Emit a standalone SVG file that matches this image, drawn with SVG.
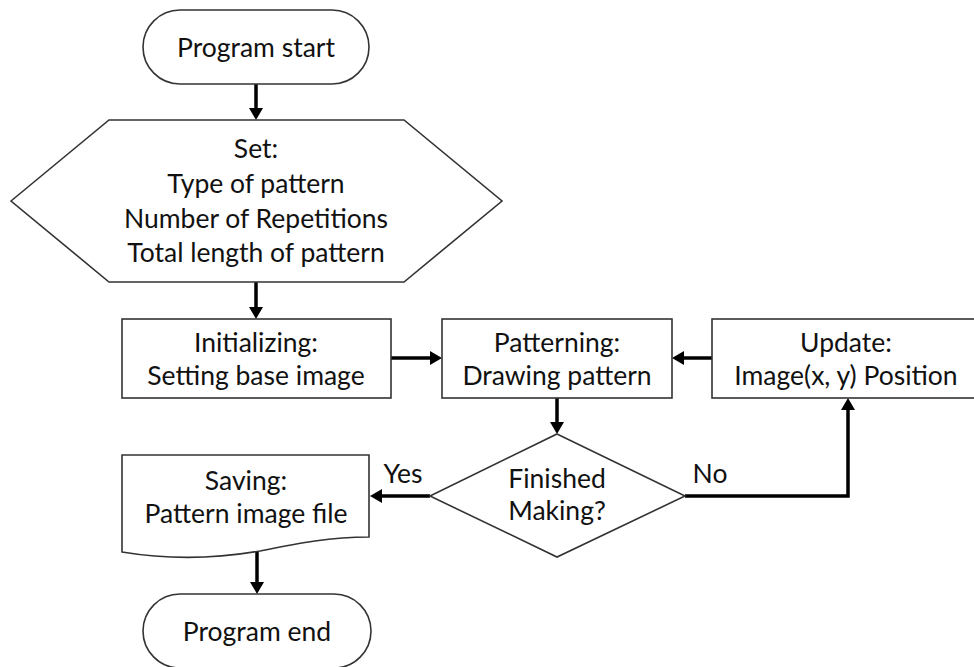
<svg xmlns="http://www.w3.org/2000/svg" width="974" height="667" viewBox="0 0 974 667">
<style>
.shape{fill:#ffffff;stroke:#333333;stroke-width:1.6}
.conn{fill:none;stroke:#000000;stroke-width:3.5}
text{font-family:Lato,"Open Sans","Liberation Sans",sans-serif;font-size:26.5px;fill:#111111;text-anchor:middle}
</style>
<defs>
<marker id="arr" markerUnits="userSpaceOnUse" markerWidth="13" markerHeight="14" refX="3" refY="7" orient="auto">
<path d="M0,0 L12,7 L0,14 z" fill="#000000"/>
</marker>
</defs>
<rect width="974" height="667" fill="#ffffff"/>
<g id="connectors">
<line class="conn" x1="256" y1="84" x2="256" y2="111" marker-end="url(#arr)"/>
<line class="conn" x1="256" y1="282" x2="256" y2="310" marker-end="url(#arr)"/>
<line class="conn" x1="391" y1="358" x2="433" y2="358" marker-end="url(#arr)"/>
<line class="conn" x1="712" y1="358" x2="681" y2="358" marker-end="url(#arr)"/>
<line class="conn" x1="557" y1="398" x2="557" y2="425" marker-end="url(#arr)"/>
<line class="conn" x1="430" y1="496" x2="379" y2="496" marker-end="url(#arr)"/>
<path class="conn" d="M685,496 H848 V407" marker-end="url(#arr)"/>
<line class="conn" x1="257" y1="549" x2="257" y2="585" marker-end="url(#arr)"/>
<text x="403" y="483">Yes</text>
<text x="710" y="483">No</text>
</g>
<g id="start">
<rect class="shape" x="143" y="10" width="226" height="74" rx="37" ry="37"/>
<text x="256" y="57">Program start</text>
</g>
<g id="set">
<polygon class="shape" points="11,201 109,120 404,120 502,201 404,282 109,282"/>
<text x="256" y="158">Set:</text>
<text x="256" y="193">Type of pattern</text>
<text x="256" y="228">Number of Repetitions</text>
<text x="256" y="262">Total length of pattern</text>
</g>
<g id="init">
<rect class="shape" x="122" y="319" width="269" height="79"/>
<text x="256" y="352">Initializing:</text>
<text x="256" y="385">Setting base image</text>
</g>
<g id="patterning">
<rect class="shape" x="442" y="319" width="230" height="79"/>
<text x="557" y="352">Patterning:</text>
<text x="557" y="385">Drawing pattern</text>
</g>
<g id="update">
<rect class="shape" x="712" y="319" width="270" height="79"/>
<text x="846" y="352">Update:</text>
<text x="846" y="385">Image(x, y) Position</text>
</g>
<g id="decision">
<polygon class="shape" points="557,434 685,496 557,557 430,496"/>
<text x="557" y="488">Finished</text>
<text x="557" y="520">Making?</text>
</g>
<g id="saving">
<path class="shape" d="M122,455 H369 V537 C330,537 300,543 260,551 C220,558 170,560 122,552 Z"/>
<text x="246" y="490">Saving:</text>
<text x="246" y="523">Pattern image file</text>
</g>
<g id="end">
<rect class="shape" x="143" y="594" width="228" height="74" rx="37" ry="37"/>
<text x="257" y="641">Program end</text>
</g>
</svg>
